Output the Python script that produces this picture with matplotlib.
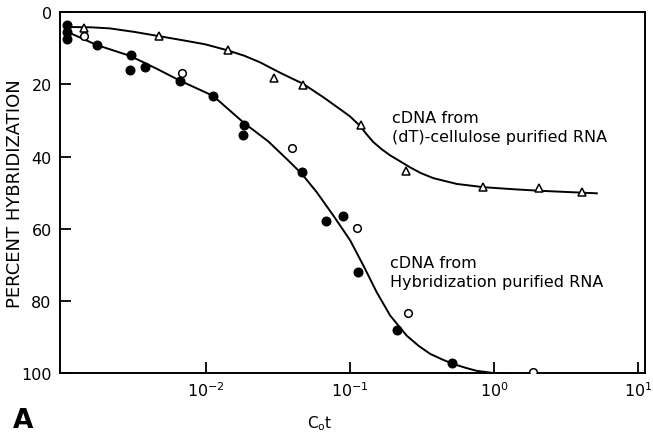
import numpy as np
import matplotlib
matplotlib.use('Agg')
import matplotlib.pyplot as plt
from matplotlib.ticker import FixedLocator, FixedFormatter

# hybridization-purified cDNA, filled circles
filled_x = [1.08e-3, 1.08e-3, 1.08e-3, 1.76e-3, 3.0e-3, 2.94e-3, 3.75e-3, 6.64e-3,
            1.12e-2, 1.84e-2, 1.79e-2, 4.64e-2, 6.8e-2, 8.97e-2, 0.114, 0.211, 0.508]
filled_y = [3.5, 5.5, 7.5, 9.1, 11.8, 16.1, 15.3, 19.2,
            23.2, 31.2, 34.0, 44.2, 58.0, 56.4, 71.9, 88.1, 97.3]

# hybridization-purified cDNA, open circles
open_x = [1.41e-3, 6.85e-3, 3.98e-2, 0.111, 0.254, 1.85]
open_y = [6.7, 16.9, 37.7, 59.9, 83.5, 99.8]

# (dT)-cellulose cDNA, open triangles
tri_x = [1.41e-3, 4.74e-3, 1.42e-2, 2.97e-2, 4.72e-2, 0.119, 0.244, 0.835, 2.04, 4.06]
tri_y = [4.5, 6.7, 10.5, 18.3, 20.2, 31.3, 44.0, 48.4, 48.8, 49.8]

# fitted curves
top_cx = [1.08e-3, 1.60e-3, 2.15e-3, 3.21e-3, 4.80e-3, 7.15e-3, 9.84e-3, 1.39e-2, 1.85e-2,
          2.37e-2, 3.27e-2, 4.74e-2, 6.53e-2, 8.53e-2, 0.100, 0.117, 0.130, 0.145, 0.166,
          0.190, 0.222, 0.261, 0.310, 0.379, 0.551, 0.843, 1.40, 2.09, 5.17]
top_cy = [4.1, 4.2, 4.5, 5.5, 6.7, 7.9, 8.9, 10.5, 12.1,
          13.9, 16.8, 19.9, 23.6, 26.9, 28.9, 31.5, 33.8, 36.0, 38.0,
          39.7, 41.3, 43.0, 44.6, 46.0, 47.6, 48.5, 49.1, 49.5, 50.2]

bot_cx = [1.08e-3, 1.74e-3, 2.96e-3, 4.50e-3, 6.60e-3, 1.12e-2, 1.82e-2, 2.70e-2, 3.70e-2,
          4.62e-2, 5.87e-2, 7.66e-2, 0.100, 0.124, 0.153, 0.190, 0.248, 0.300, 0.360,
          0.440, 0.521, 0.640, 0.759, 0.99, 1.30]
bot_cy = [5.4, 9.1, 12.1, 15.6, 19.0, 23.2, 30.6, 35.8, 41.0,
          44.8, 49.9, 56.4, 63.2, 70.3, 77.6, 84.1, 89.7, 92.5, 94.7,
          96.3, 97.5, 98.6, 99.4, 100.0, 100.0]

xticks = [1e-2, 1e-1, 1e0, 1e1]
xticklabels = ['$10^{-2}$', '$10^{-1}$', '$10^{0}$', '$10^{1}$']
yticks = [0, 20, 40, 60, 80, 100]

fig = plt.figure(figsize=(6.53, 4.39), dpi=100)
ax = fig.add_axes([0.092, 0.148, 0.896, 0.822])

ax.plot(top_cx, top_cy, color='k', lw=1.4, solid_joinstyle='round', zorder=2)
ax.plot(bot_cx, bot_cy, color='k', lw=1.4, solid_joinstyle='round', zorder=2)
ax.plot(filled_x, filled_y, 'o', ms=6.2, color='k', zorder=3)
ax.plot(open_x, open_y, 'o', ms=5.5, mfc='white', mec='k', mew=1.1, zorder=3)
ax.plot(tri_x, tri_y, '^', ms=6.2, mfc='white', mec='k', mew=1.1, zorder=3)

ax.set_xscale('log')
ax.set_xlim(9.68e-4, 11.2)
ax.set_ylim(100, 0)
ax.xaxis.set_major_locator(FixedLocator(xticks))
ax.xaxis.set_major_formatter(FixedFormatter(xticklabels))
ax.xaxis.set_minor_locator(FixedLocator([]))
ax.set_yticks(yticks)
ax.tick_params(direction='in', length=8, width=1.3, labelsize=11.5, pad=6)
ax.tick_params(axis='x', pad=5)
for s in ax.spines.values():
    s.set_linewidth(1.4)

ax.set_ylabel('PERCENT HYBRIDIZATION', fontsize=13)
ax.yaxis.set_label_coords(-0.062, 0.5)
fig.text(320 / 653, 1 - 424 / 439, '$\\mathregular{C_o t}$', fontsize=11,
         ha='center', va='center')

ax.text(0.5675, 0.729, 'cDNA from\n(dT)-cellulose purified RNA', transform=ax.transAxes,
        fontsize=11.5, ha='left', va='top', linespacing=1.35)
ax.text(0.564, 0.327, 'cDNA from\nHybridization purified RNA', transform=ax.transAxes,
        fontsize=11.5, ha='left', va='top', linespacing=1.35)
fig.text(13 / 653, 1 - 428 / 439, 'A', fontsize=19, fontweight='bold', va='baseline')

fig.savefig('out.png', dpi=100)
